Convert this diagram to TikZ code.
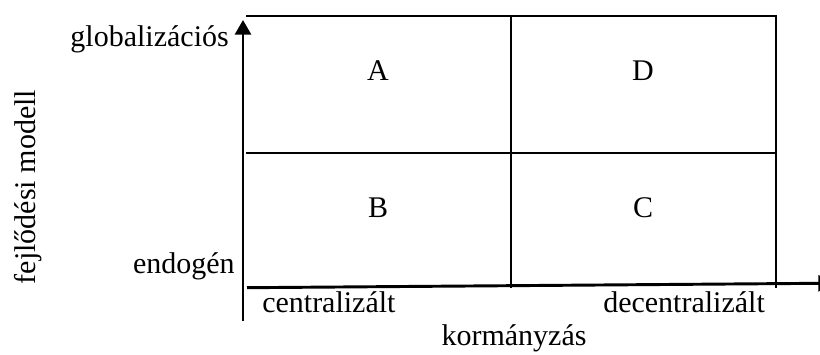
\documentclass[tikz,border=0pt]{standalone}
\usepackage{fontspec}
\setmainfont{Liberation Serif}
\usetikzlibrary{arrows.meta}
\begin{document}
\begin{tikzpicture}[x=0.75pt,y=-0.75pt,
  ln/.style={line width=2.2pt},
  lbl/.style={font=\fontsize{22.5}{27}\selectfont, inner sep=0pt},
  axis/.style={ln,-{Triangle[length=11pt,width=12pt]}}]
\useasboundingbox (0,0) rectangle (820,354);
\clip (0,0) rectangle (820,354);
% grid
\coordinate (tl) at (246,16);
\coordinate (tm) at (511,16);
\coordinate (tr) at (776,16);
\coordinate (ml) at (246,153);
\coordinate (mr) at (776,153);
\coordinate (bm) at (511,288);
\coordinate (br) at (776,288);
\draw[ln] (tl) -- (tr) -- (br);
\draw[ln] (tm) -- (bm);
\draw[ln] (ml) -- (mr);
% axes
\coordinate (yo) at (243,321);
\coordinate (ytip) at (243,20);
\draw[axis] (yo) -- (ytip);
\coordinate (xo) at (247,287.7);
\coordinate (xtip) at (833,283.2);
\draw[axis] (xo) -- (xtip);
% labels
\node[lbl, anchor=base east] (glob) at (229,46) {globalizációs};
\node[lbl, anchor=base east] (endo) at (235,273) {endogén};
\node[lbl, anchor=base west] (cent) at (262,312) {centralizált};
\node[lbl, anchor=base west] (decent) at (603,312) {decentralizált};
\node[lbl, anchor=base] (korm) at (514,345) {kormányzás};
\node[lbl, rotate=90, anchor=center] (fejl) at (28,187) {fejlődési modell};
\node[lbl, anchor=base] (A) at (378,80) {A};
\node[lbl, anchor=base] (D) at (643,80) {D};
\node[lbl, anchor=base] (B) at (378,217) {B};
\node[lbl, anchor=base] (C) at (643,217) {C};
\end{tikzpicture}
\end{document}
